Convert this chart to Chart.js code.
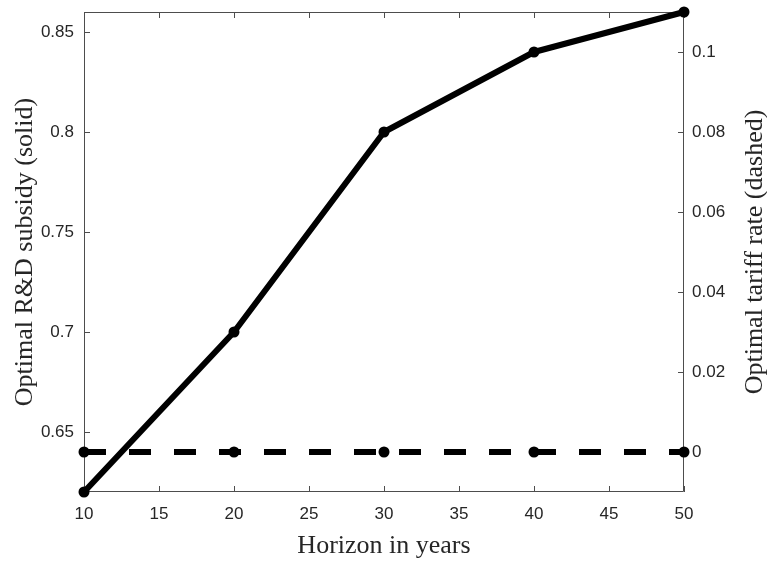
<!DOCTYPE html>
<html>
<head>
<meta charset="utf-8">
<script src="https://cdn.jsdelivr.net/npm/chart.js@4.4.0/dist/chart.umd.min.js"></script>
<style>
html, body { margin: 0; padding: 0; background: #fff; }
#wrap { width: 767px; height: 561px; }
</style>
</head>
<body>
<div id="wrap"><canvas id="chart"></canvas></div>
<script>
// data
const horizon = [10, 20, 30, 40, 50];
const subsidy = [0.62, 0.70, 0.80, 0.84, 0.86];
const tariff = [0, 0, 0, 0, 0];
const xTicks = [10, 15, 20, 25, 30, 35, 40, 45, 50];
const leftTicks = [0.65, 0.7, 0.75, 0.8, 0.85];
const rightTicks = [0, 0.02, 0.04, 0.06, 0.08, 0.1];

const axisColor = '#262626';
const tickFont = { family: 'Liberation Sans', size: 17 };
const titleFont = '26px "Liberation Serif"';

// box, inward ticks and axis titles like matlab
const matlabAxes = {
    id: 'matlabAxes',
    beforeDatasetsDraw(chart) {
        const { ctx, chartArea: { left, right, top, bottom }, scales: { x, y, y1 } } = chart;
        ctx.save();
        ctx.strokeStyle = '#4d4d4d';
        ctx.lineWidth = 1;
        ctx.beginPath();
        ctx.rect(left + 0.5, top + 0.5, right - left - 1, bottom - top - 1);
        xTicks.forEach(v => {
            const px = Math.round(x.getPixelForValue(v)) + 0.5;
            ctx.moveTo(px, bottom); ctx.lineTo(px, bottom - 6);
            ctx.moveTo(px, top); ctx.lineTo(px, top + 6);
        });
        leftTicks.forEach(v => {
            const py = Math.round(y.getPixelForValue(v)) + 0.5;
            ctx.moveTo(left, py); ctx.lineTo(left + 6, py);
        });
        rightTicks.forEach(v => {
            const py = Math.round(y1.getPixelForValue(v)) + 0.5;
            ctx.moveTo(right, py); ctx.lineTo(right - 6, py);
        });
        ctx.stroke();
        ctx.restore();
    },
    afterDraw(chart) {
        const { ctx, chartArea: { left, right, top, bottom } } = chart;
        const midY = (top + bottom) / 2;
        ctx.save();
        ctx.fillStyle = axisColor;
        ctx.font = titleFont;
        ctx.textAlign = 'center';
        ctx.textBaseline = 'alphabetic';
        ctx.fillText('Horizon in years', (left + right) / 2, 553);

        ctx.save();
        ctx.translate(32, midY);
        ctx.rotate(-Math.PI / 2);
        ctx.fillText('Optimal R&D subsidy (solid)', 0, 0);
        ctx.restore();

        ctx.save();
        ctx.translate(762, midY);
        ctx.rotate(-Math.PI / 2);
        ctx.fillText('Optimal tariff rate (dashed)', 0, 0);
        ctx.restore();
        ctx.restore();
    }
};

const setTicks = list => scale => { scale.ticks = list.map(v => ({ value: v })); };
const noPad = scale => {
    scale.paddingTop = 0; scale.paddingBottom = 0;
    scale.paddingLeft = 0; scale.paddingRight = 0;
};

new Chart(document.getElementById('chart'), {
    type: 'line',
    data: {
        datasets: [
            {
                label: 'R&D subsidy',
                data: horizon.map((h, i) => ({ x: h, y: subsidy[i] })),
                yAxisID: 'y',
                borderColor: '#000',
                backgroundColor: '#000',
                borderWidth: 6,
                borderJoinStyle: 'round',
                pointRadius: 5.5,
                pointBorderWidth: 0,
                clip: false
            },
            {
                label: 'Tariff rate',
                data: horizon.map((h, i) => ({ x: h, y: tariff[i] })),
                yAxisID: 'y1',
                borderColor: '#000',
                backgroundColor: '#000',
                borderWidth: 6,
                borderDash: [22, 23],
                pointRadius: 5.5,
                pointBorderWidth: 0,
                clip: false
            }
        ]
    },
    options: {
        responsive: true,
        maintainAspectRatio: false,
        animation: false,
        layout: { padding: { top: 12, left: 0, right: 0, bottom: 0 } },
        plugins: { legend: { display: false }, tooltip: { enabled: false } },
        scales: {
            x: {
                type: 'linear',
                position: 'bottom',
                min: 10,
                max: 50,
                afterBuildTicks: setTicks(xTicks),
                afterFit(scale) { scale.height = 69; noPad(scale); },
                grid: { display: false, drawTicks: false },
                border: { display: false },
                ticks: { font: tickFont, color: axisColor, padding: 12, maxRotation: 0 }
            },
            y: {
                position: 'left',
                min: 0.62,
                max: 0.86,
                afterBuildTicks: setTicks(leftTicks),
                afterFit(scale) { scale.width = 84; noPad(scale); },
                grid: { display: false, drawTicks: false },
                border: { display: false },
                ticks: { font: tickFont, color: axisColor, padding: 10, callback: v => String(v) }
            },
            y1: {
                position: 'right',
                min: -0.01,
                max: 0.11,
                afterBuildTicks: setTicks(rightTicks),
                afterFit(scale) { scale.width = 83; noPad(scale); },
                grid: { display: false, drawTicks: false },
                border: { display: false },
                ticks: { font: tickFont, color: axisColor, padding: 8, callback: v => String(v) }
            }
        }
    },
    plugins: [matlabAxes]
});
</script>
</body>
</html>
